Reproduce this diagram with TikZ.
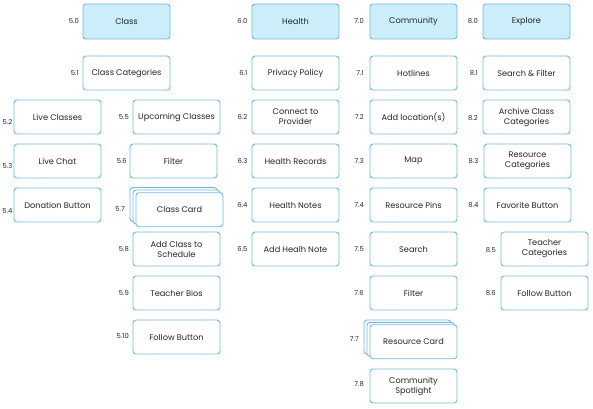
\documentclass[tikz,border=0pt]{standalone}
\usepackage{fontspec}
\setmainfont{Poppins}
\definecolor{bordercol}{HTML}{72B9D8}
\definecolor{hdrfill}{HTML}{CCEEFB}
\definecolor{txtcol}{HTML}{262626}
\tikzset{
  box/.style={draw=bordercol, line width=0.9pt, rounded corners=3pt, fill=white,
    minimum width=87pt, minimum height=34pt, align=center, text=txtcol,
    font=\fontsize{8.2}{10}\selectfont, inner sep=1pt},
  hdr/.style={box, fill=hdrfill, minimum height=35pt},
  num/.style={anchor=east, text=txtcol, font=\fontsize{6.8}{7.5}\selectfont, inner sep=0pt},
}
\begin{document}
\begin{tikzpicture}[x=1pt,y=-1pt]
\useasboundingbox (0,0) rectangle (593,408);
% Class column
\node[hdr] (c50) at (126.5,21.5) {Class};
\node[box] (c51) at (126.5,73) {Class Categories};
\node[box] (c52) at (57.5,117) {Live Classes};
\node[box] (c53) at (57.5,161) {Live Chat};
\node[box] (c54) at (57.5,205) {Donation Button};
\node[box] (c55) at (176.5,117) {Upcoming Classes};
\node[box] (c56) at (173.5,161) {Filter};
\node[box] (c57b) at (173.5,204.5) {};
\node[box] (c57m) at (176.5,207) {};
\node[box] (c57) at (179.5,209.7) {Class Card};
\node[box] (c58) at (176.5,249) {Add Class to\\Schedule};
\node[box] (c59) at (176.5,293) {Teacher Bios};
\node[box] (c510) at (176.5,337) {Follow Button};
% Health column
\node[hdr] (h60) at (295.5,21.5) {Health};
\node[box] (h61) at (295.5,73) {Privacy Policy};
\node[box] (h62) at (295.5,117) {Connect to\\Provider};
\node[box] (h63) at (295.5,161) {Health Records};
\node[box] (h64) at (295.5,205) {Health Notes};
\node[box] (h65) at (295.5,249) {Add Healh Note};
% Community column
\node[hdr] (m70) at (413.5,21.5) {Community};
\node[box] (m71) at (413.5,73) {Hotlines};
\node[box] (m72) at (413.5,117) {Add location(s)};
\node[box] (m73) at (413.5,161) {Map};
\node[box] (m74) at (413.5,205) {Resource Pins};
\node[box] (m75) at (413.5,249) {Search};
\node[box] (m76) at (413.5,293) {Filter};
\node[box] (m77b) at (407.5,337) {};
\node[box] (m77m) at (410.5,339.3) {};
\node[box] (m77) at (413.5,341.7) {Resource Card};
\node[box] (m78) at (413.5,386) {Community\\Spotlight};
% Explore column
\node[hdr] (e80) at (526.5,21.5) {Explore};
\node[box] (e81) at (526.5,73) {Search \& Filter};
\node[box] (e82) at (526.5,117) {Archive Class\\Categories};
\node[box] (e83) at (527.5,161) {Resource\\Categories};
\node[box] (e84) at (527.5,205) {Favorite Button};
\node[box] (e85) at (544.5,249) {Teacher\\Categories};
\node[box] (e86) at (544.5,293) {Follow Button};
% numbers
\node[num] (n50) at (79,21.5) {5.0};
\node[num] (n51) at (79,73) {5.1};
\node[num] (n52) at (12.5,122) {5.2};
\node[num] (n53) at (12.5,166.5) {5.3};
\node[num] (n54) at (12.5,211) {5.4};
\node[num] (n55) at (129,117) {5.5};
\node[num] (n56) at (127,161) {5.6};
\node[num] (n57) at (125,209) {5.7};
\node[num] (n58) at (129,249) {5.8};
\node[num] (n59) at (129,293) {5.9};
\node[num] (n510) at (129,336) {5.10};
\node[num] (n60) at (247.5,21.5) {6.0};
\node[num] (n61) at (247.5,73) {6.1};
\node[num] (n62) at (247.5,117) {6.2};
\node[num] (n63) at (247.5,161) {6.3};
\node[num] (n64) at (247.5,205) {6.4};
\node[num] (n65) at (247.5,249) {6.5};
\node[num] (n70) at (364,21.5) {7.0};
\node[num] (n71) at (364,73) {7.1};
\node[num] (n72) at (364,117) {7.2};
\node[num] (n73) at (364,161) {7.3};
\node[num] (n74) at (364,205) {7.4};
\node[num] (n75) at (364,249) {7.5};
\node[num] (n76) at (364,293) {7.6};
\node[num] (n77) at (359,339) {7.7};
\node[num] (n78) at (364,384) {7.8};
\node[num] (n80) at (478,21.5) {8.0};
\node[num] (n81) at (478,73) {8.1};
\node[num] (n82) at (478,118.5) {8.2};
\node[num] (n83) at (478.5,161) {8.3};
\node[num] (n84) at (478.5,205) {8.4};
\node[num] (n85) at (496,250) {8.5};
\node[num] (n86) at (496,293) {8.6};
\end{tikzpicture}
\end{document}
